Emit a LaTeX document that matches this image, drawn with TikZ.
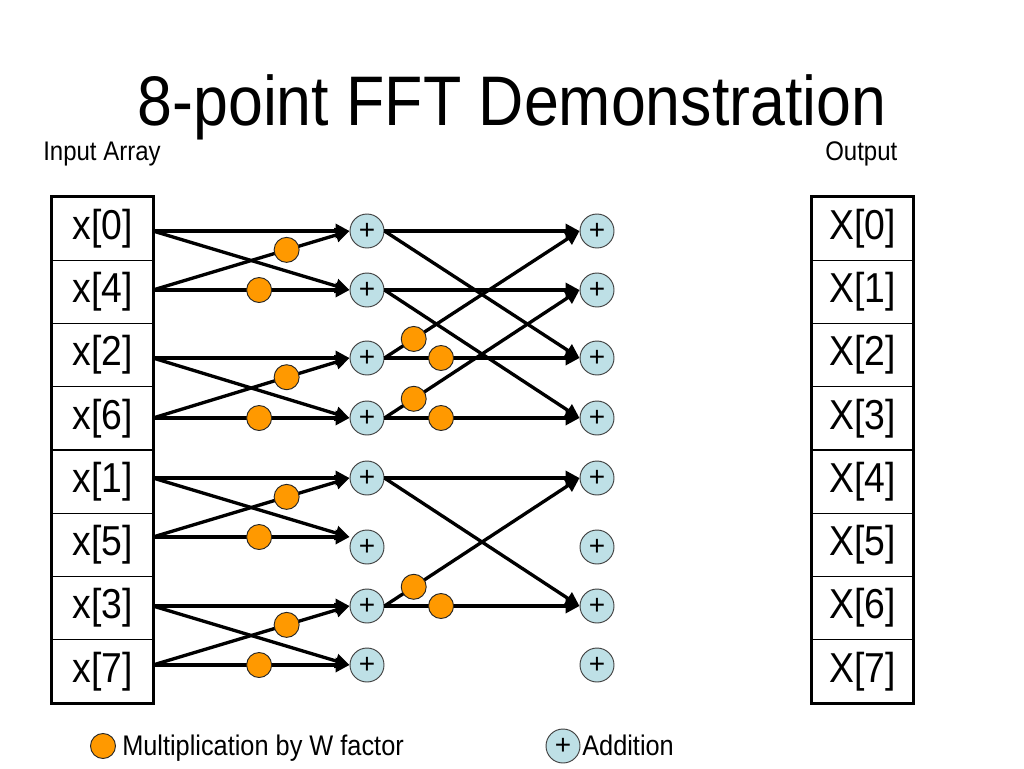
\documentclass[tikz,border=0pt]{standalone}
\usepackage{fontspec}
\setmainfont{Liberation Sans}
\usepackage{xcolor}
\usepackage{tikz}
\usetikzlibrary{positioning,arrows.meta}

\definecolor{plusblue}{RGB}{190,224,230}
\definecolor{worange}{RGB}{255,153,0}
\newcommand{\tallt}[1]{\scalebox{1}[1.12]{#1}}

\begin{document}
\begin{tikzpicture}[x=0.75pt, y=-0.75pt, >={Triangle[length=10.5pt,width=10.5pt]},
  cell/.style={draw, line width=0.8pt, minimum width=75.75pt, minimum height=47.44pt, inner sep=0pt, font=\fontsize{28}{30}\selectfont},
  adder/.style={circle, draw=black!75, line width=0.7pt, fill=plusblue, minimum size=25.5pt, inner sep=0pt, font=\fontsize{21}{21}\selectfont},
  wmul/.style={circle, draw=black!85, line width=0.7pt, fill=worange, minimum size=18.75pt, inner sep=0pt},
  flow/.style={->, line width=2.5pt},
  lbl/.style={inner sep=0pt, font=\fontsize{18}{20}\selectfont}]
\useasboundingbox (0,0) rectangle (1024,768);

% title and headings
\node[anchor=base, inner sep=0pt, font=\fontsize{47}{50}\selectfont] (title) at (512,125) {\tallt{8-point FFT Demonstration}};
\node[lbl, anchor=base west] (inlbl) at (43,160) {\tallt{Input Array}};
\node[lbl, anchor=base west] (outlbl) at (825,160) {\tallt{Output}};

% input array
\node[cell] (x0) at (102.5,228.6) {\tallt{x[0]}};
\node[cell] (x1) at (102.5,291.9) {\tallt{x[4]}};
\node[cell] (x2) at (102.5,355.1) {\tallt{x[2]}};
\node[cell] (x3) at (102.5,418.4) {\tallt{x[6]}};
\node[cell] (x4) at (102.5,481.6) {\tallt{x[1]}};
\node[cell] (x5) at (102.5,544.9) {\tallt{x[5]}};
\node[cell] (x6) at (102.5,608.1) {\tallt{x[3]}};
\node[cell] (x7) at (102.5,671.4) {\tallt{x[7]}};
\draw[line width=2.4pt] (x0.north west) rectangle (x7.south east);

% output array
\node[cell] (X0) at (862.5,228.6) {\tallt{X[0]}};
\node[cell] (X1) at (862.5,291.9) {\tallt{X[1]}};
\node[cell] (X2) at (862.5,355.1) {\tallt{X[2]}};
\node[cell] (X3) at (862.5,418.4) {\tallt{X[3]}};
\node[cell] (X4) at (862.5,481.6) {\tallt{X[4]}};
\node[cell] (X5) at (862.5,544.9) {\tallt{X[5]}};
\node[cell] (X6) at (862.5,608.1) {\tallt{X[6]}};
\node[cell] (X7) at (862.5,671.4) {\tallt{X[7]}};
\draw[line width=2.4pt] (X0.north west) rectangle (X7.south east);

% line starts at the input array
\coordinate (s0) at (153,231);
\coordinate (s1) at (153,290);
\coordinate (s2) at (153,358);
\coordinate (s3) at (153,418);
\coordinate (s4) at (153,478);
\coordinate (s5) at (153,537);
\coordinate (s6) at (153,606);
\coordinate (s7) at (153,665);

% first adders
\node[adder] (a0) at (367,231) {+};
\node[adder] (a1) at (367,290) {+};
\node[adder] (a2) at (367,358) {+};
\node[adder] (a3) at (367,418) {+};
\node[adder] (a4) at (367,478) {+};
\node[adder] (a5) at (367,547) {+};
\node[adder] (a6) at (367,606) {+};
\node[adder] (a7) at (367,665) {+};

% second adders
\node[adder] (b0) at (597,231) {+};
\node[adder] (b1) at (597,290) {+};
\node[adder] (b2) at (597,358) {+};
\node[adder] (b3) at (597,418) {+};
\node[adder] (b4) at (597,478) {+};
\node[adder] (b5) at (597,547) {+};
\node[adder] (b6) at (597,606) {+};
\node[adder] (b7) at (597,665) {+};

% first stage
\draw[flow] (s0) -- (a0.west);
\draw[flow] (s0) -- (a1.west);
\draw[flow] (s1) -- node[wmul, pos=.68] (m1a) {} (a0.west);
\draw[flow] (s1) -- node[wmul, pos=.54] (m1b) {} (a1.west);
\draw[flow] (s2) -- (a2.west);
\draw[flow] (s2) -- (a3.west);
\draw[flow] (s3) -- node[wmul, pos=.68] (m3a) {} (a2.west);
\draw[flow] (s3) -- node[wmul, pos=.54] (m3b) {} (a3.west);
\draw[flow] (s4) -- (a4.west);
\draw[flow] (s4) -- ([yshift=7.5pt]a5.west);
\draw[flow] (s5) -- node[wmul, pos=.68] (m5a) {} (a4.west);
\draw[flow] (s5) -- node[wmul, pos=.54] (m5b) {} ([yshift=7.5pt]a5.west);
\draw[flow] (s6) -- (a6.west);
\draw[flow] (s6) -- (a7.west);
\draw[flow] (s7) -- node[wmul, pos=.68] (m7a) {} (a6.west);
\draw[flow] (s7) -- node[wmul, pos=.54] (m7b) {} (a7.west);

% second stage
\draw[flow] (a0.east) -- (b0.west);
\draw[flow] (a0.east) -- (b2.west);
\draw[flow] (a1.east) -- (b1.west);
\draw[flow] (a1.east) -- (b3.west);
\draw[flow] (a2.east) -- node[wmul, pos=.15] (n2a) {} (b0.west);
\draw[flow] (a2.east) -- node[wmul, pos=.29] (n2b) {} (b2.west);
\draw[flow] (a3.east) -- node[wmul, pos=.15] (n3a) {} (b1.west);
\draw[flow] (a3.east) -- node[wmul, pos=.29] (n3b) {} (b3.west);
\draw[flow] (a4.east) -- (b4.west);
\draw[flow] (a4.east) -- (b6.west);
\draw[flow] (a6.east) -- node[wmul, pos=.15] (n6a) {} (b4.west);
\draw[flow] (a6.east) -- node[wmul, pos=.29] (n6b) {} (b6.west);

% legend
\node[wmul] (legw) at (103,746) {};
\node[lbl, anchor=base west, font=\fontsize{19}{20}\selectfont] (legwt) at (122,755) {\tallt{Multiplication by W factor}};
\node[adder] (lega) at (563,746) {+};
\node[lbl, anchor=base west, font=\fontsize{19}{20}\selectfont] (legat) at (582,755) {\tallt{Addition}};
\end{tikzpicture}
\end{document}
